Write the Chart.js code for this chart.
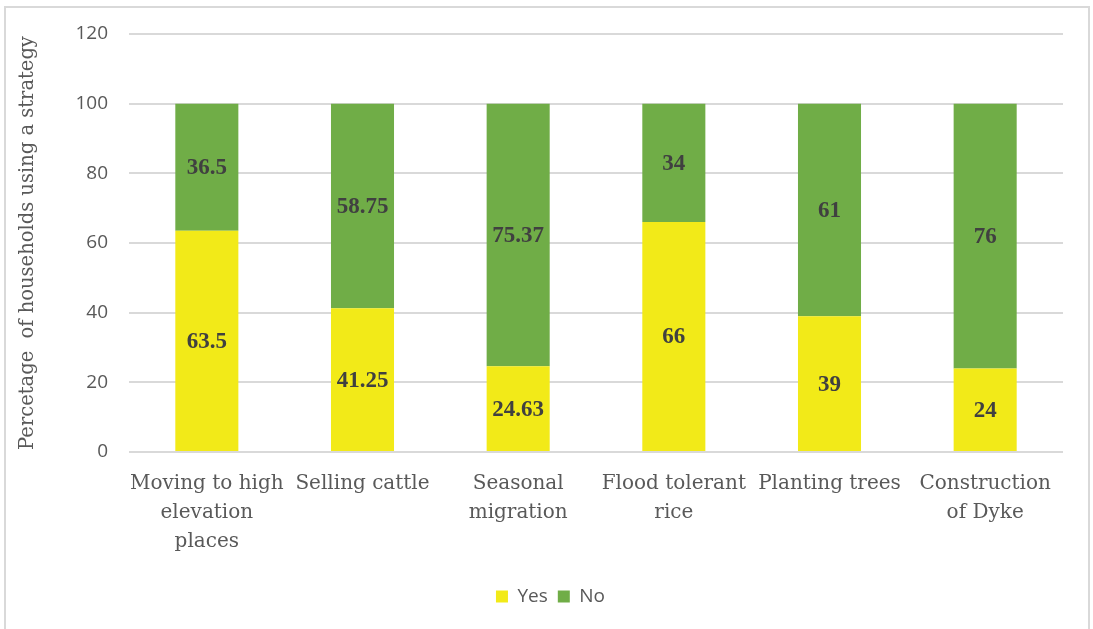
<!DOCTYPE html>
<html>
<head>
<meta charset="utf-8">
<script src="https://cdn.jsdelivr.net/npm/chart.js@4/dist/chart.umd.min.js"></script>
<style>
  html, body { margin: 0; padding: 0; background: #fff; }
  #wrap { position: relative; width: 1093px; height: 629px; overflow: hidden; }
  #frame { position: absolute; left: 4px; top: 6px; width: 1086px; height: 640px; border: 2px solid #d9d9d9; box-sizing: border-box; }
  canvas { position: absolute; left: 0; top: 0; }
</style>
</head>
<body>
<div id="wrap">
  <div id="frame"></div>
  <canvas id="c" width="1093" height="629"></canvas>
</div>
<script>
const categories = [
  ["Moving to high", "elevation", "places"],
  ["Selling cattle"],
  ["Seasonal", "migration"],
  ["Flood tolerant", "rice"],
  ["Planting trees"],
  ["Construction", "of Dyke"]
];
const yesValues = [63.5, 41.25, 24.63, 66, 39, 24];
const noValues = [36.5, 58.75, 75.37, 34, 61, 76];
const yTitle = "Percetage  of households using a strategy";

const barLabels = {
  id: 'barLabels',
  afterDatasetsDraw(chart) {
    const ctx = chart.ctx;
    ctx.save();
    ctx.font = 'bold 23px "Liberation Serif"';
    ctx.fillStyle = '#404040';
    ctx.textAlign = 'center';
    ctx.textBaseline = 'middle';
    chart.data.datasets.forEach((ds, di) => {
      const meta = chart.getDatasetMeta(di);
      meta.data.forEach((el, i) => {
        const v = ds.data[i];
        const y = (el.y + el.base) / 2;
        ctx.fillText(String(v), el.x, y + 1);
      });
    });
    ctx.restore();
  }
};

new Chart(document.getElementById('c'), {
  type: 'bar',
  data: {
    labels: categories,
    datasets: [
      { label: 'Yes', data: yesValues, backgroundColor: '#f2ea18', borderWidth: 0 },
      { label: 'No', data: noValues, backgroundColor: '#70ad47', borderWidth: 0 }
    ]
  },
  options: {
    responsive: false,
    animation: false,
    devicePixelRatio: 1,
    layout: { padding: { left: 38, right: 30, top: 34, bottom: 13 } },
    datasets: { bar: { categoryPercentage: 1, barPercentage: 0.405 } },
    plugins: {
      legend: {
        position: 'bottom',
        labels: {
          boxWidth: 12, boxHeight: 12, padding: 10,
          color: '#595959',
          font: { family: '"Open Sans"', size: 19 }
        }
      },
      tooltip: { enabled: false }
    },
    scales: {
      x: {
        stacked: true,
        grid: { display: false, drawTicks: false },
        border: { display: false },
        ticks: {
          color: '#595959',
          padding: 17,
          maxRotation: 0,
          autoSkip: false,
          font: { family: '"DejaVu Serif"', size: 20, lineHeight: 1.45 }
        },
        afterFit(s) { s.height = 125; }
      },
      y: {
        stacked: true,
        min: 0, max: 120,
        grid: { color: '#d9d9d9', lineWidth: 2, drawTicks: false },
        border: { display: false },
        ticks: {
          stepSize: 20,
          color: '#595959',
          padding: 21,
          font: { family: '"Open Sans"', size: 19 }
        },
        title: {
          display: true,
          text: yTitle,
          color: '#595959',
          padding: { top: -22, bottom: 0 },
          font: { family: '"DejaVu Serif"', size: 19.5 }
        },
        afterFit(s) { s.width = 91; }
      }
    }
  },
  plugins: [barLabels]
});
</script>
</body>
</html>
